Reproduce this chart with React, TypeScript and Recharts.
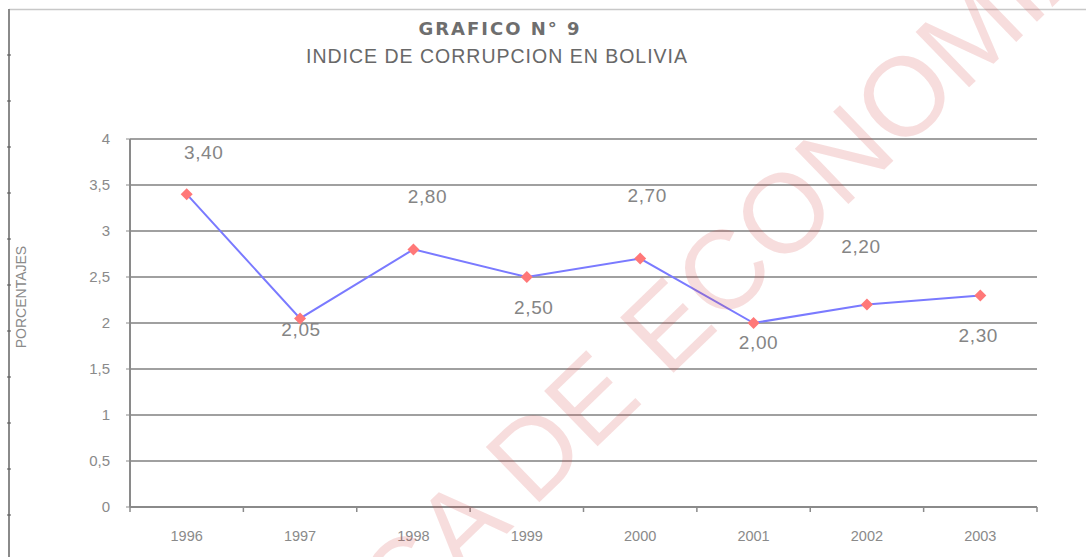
import React from "react";
import {
  CartesianGrid,
  LabelList,
  Line,
  LineChart,
  XAxis,
  YAxis,
} from "recharts";

const years = ["1996", "1997", "1998", "1999", "2000", "2001", "2002", "2003"];
const indexValues = [3.4, 2.05, 2.8, 2.5, 2.7, 2.0, 2.2, 2.3];
const yTicks = [0, 0.5, 1, 1.5, 2, 2.5, 3, 3.5, 4];

// where Excel left each data label, relative to its point
const labelDx = [17, 1, 14, 7, 7, 5, -6, -2];
const labelDy = [-42, 11, -53, 30, -63, 19, -58, 40];

const data = years.map((year, i) => ({ year, value: indexValues[i] }));

const W = 1086;
const H = 557;
const margin = { top: 139, right: 49, bottom: 20, left: 70 };
const Y_AXIS_W = 60;
const PLOT_LEFT = margin.left + Y_AXIS_W;
const PLOT_W = W - PLOT_LEFT - margin.right;
const BAND = PLOT_W / years.length;
const AXIS_Y = H - margin.bottom - 30;

const grey = "#8a8a8a";
const fmt = (v: number, d: number) => v.toFixed(d).replace(".", ",");

function YearTick({ x, y, payload, index }: any) {
  const half = BAND / 2;
  return (
    <g>
      <line x1={x - half} x2={x - half} y1={AXIS_Y} y2={AXIS_Y + 5} stroke={grey} strokeWidth={1.5} />
      {index === years.length - 1 && (
        <line x1={x + half} x2={x + half} y1={AXIS_Y} y2={AXIS_Y + 5} stroke={grey} strokeWidth={1.5} />
      )}
      <text x={x} y={AXIS_Y + 34} textAnchor="middle" fill={grey} fontSize={14.5} fontFamily="Liberation Sans, Arial">
        {payload.value}
      </text>
    </g>
  );
}

function Diamond({ cx, cy }: any) {
  if (cx == null || cy == null) return null;
  const s = 6;
  return (
    <polygon
      points={`${cx},${cy - s} ${cx + s},${cy} ${cx},${cy + s} ${cx - s},${cy}`}
      fill="#ff7878"
    />
  );
}

function ValueLabel({ x, y, value, index }: any) {
  return (
    <text
      x={x + labelDx[index]}
      y={y + labelDy[index]}
      textAnchor="middle"
      dominantBaseline="central"
      fill="#858585"
      fontSize={19}
      letterSpacing={0.6}
      fontFamily="Liberation Sans, Arial"
    >
      {fmt(value, 2)}
    </text>
  );
}

function Overlay() {
  const rulerMarks: number[] = [];
  for (let y = 55; y < H; y += 46) rulerMarks.push(y);
  return (
    <svg width={W} height={H} style={{ position: "absolute", left: 0, top: 0, pointerEvents: "none" }}>
      <line x1={9} x2={W} y1={9.5} y2={9.5} stroke="#c8c8c8" strokeWidth={1.5} />
      <line x1={9} x2={9} y1={9} y2={H} stroke="#8a8a8a" strokeWidth={2} />
      {rulerMarks.map((y) => (
        <line key={y} x1={7} x2={11} y1={y} y2={y} stroke="#555" strokeWidth={1} />
      ))}
      <text
        x={500}
        y={35}
        textAnchor="middle"
        fill="#6e6e6e"
        fontSize={18}
        fontWeight="bold"
        letterSpacing={2}
        fontFamily="DejaVu Sans, Verdana"
      >
        GRAFICO N° 9
      </text>
      <text
        x={497}
        y={63}
        textAnchor="middle"
        fill="#686868"
        fontSize={19.5}
        letterSpacing={1}
        fontFamily="Liberation Sans, Arial"
      >
        INDICE DE CORRUPCION EN BOLIVIA
      </text>
      <text
        x={26}
        y={297}
        transform="rotate(-90 26 297)"
        textAnchor="middle"
        fill={grey}
        fontSize={14}
        fontFamily="Liberation Sans, Arial"
      >
        PORCENTAJES
      </text>
      <text
        x={573}
        y={470}
        transform="rotate(-44 573 470)"
        textAnchor="middle"
        fill="#d04545"
        fillOpacity={0.18}
        fontSize={112}
        fontFamily="Liberation Sans, Arial"
      >
        BIBLIOTECA DE ECONOMIA
      </text>
    </svg>
  );
}

export default function App() {
  return (
    <div style={{ position: "absolute", left: 0, top: 0, width: W, height: H, background: "#fff", overflow: "hidden" }}>
      <LineChart width={W} height={H} data={data} margin={margin}>
        <CartesianGrid vertical={false} stroke="#a0a0a0" strokeWidth={2} />
        <XAxis
          dataKey="year"
          height={30}
          tickLine={false}
          axisLine={{ stroke: grey, strokeWidth: 2 }}
          tick={<YearTick />}
          interval={0}
          padding={{ left: BAND / 2, right: BAND / 2 }}
        />
        <YAxis
          width={Y_AXIS_W}
          domain={[0, 4]}
          ticks={yTicks}
          tickFormatter={(v: number) => String(v).replace(".", ",")}
          tickSize={4}
          tickMargin={16}
          tickLine={{ stroke: grey }}
          axisLine={{ stroke: grey, strokeWidth: 2 }}
          tick={{ fill: grey, fontSize: 15, fontFamily: "Liberation Sans, Arial" }}
        />
        <YAxis
          yAxisId="right"
          orientation="right"
          width={0}
          domain={[0, 4]}
          ticks={yTicks}
          tick={false}
          tickLine={false}
          axisLine={{ stroke: "#a8a8a8", strokeWidth: 2 }}
        />
        <Line
          dataKey="value"
          stroke="#7a7aff"
          strokeWidth={2}
          dot={<Diamond />}
          activeDot={false}
          isAnimationActive={false}
        >
          <LabelList dataKey="value" content={<ValueLabel />} />
        </Line>
      </LineChart>
      <Overlay />
    </div>
  );
}
